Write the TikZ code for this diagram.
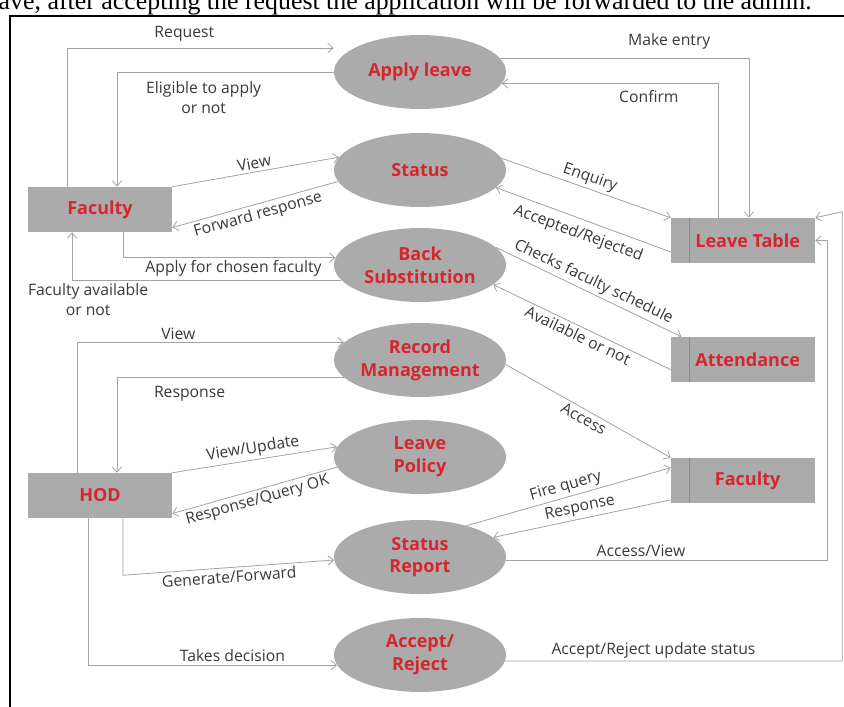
\documentclass[tikz,border=0pt]{standalone}
\usepackage{fontspec}
\setmainfont{Open Sans}
\newfontfamily\paperfont{Liberation Serif}
\usepackage{tikz}
\usetikzlibrary{arrows.meta, positioning, calc, shapes.geometric}
\definecolor{BubbleGray}{HTML}{ABABAB}
\definecolor{LineGray}{HTML}{A3A3A3}
\definecolor{StoreLine}{HTML}{8A8A8A}
\definecolor{NameRed}{HTML}{D5262E}
\definecolor{LabelInk}{HTML}{3A3A3A}

\begin{document}
\begin{tikzpicture}[
    x=0.75pt, y=-0.75pt, >={Straight Barb[length=4pt,width=7pt]},
    proc/.style={ellipse, fill=BubbleGray, minimum width=129pt, minimum height=55.5pt,
      inner sep=0pt, align=center, text=NameRed, font=\fontsize{13.5}{17}\selectfont\bfseries},
    ent/.style={rectangle, fill=BubbleGray, minimum width=108pt, minimum height=33.75pt,
      inner sep=0pt, text=NameRed, font=\fontsize{13.5}{17}\selectfont\bfseries},
    store/.style={ent, execute at begin node=\hspace*{7pt}},
    flow/.style={->, draw=LineGray, line width=0.6pt},
    lbl/.style={text=LabelInk, inner sep=2pt, align=center, font=\fontsize{11.8}{15}\selectfont},
  ]
  % page area (pixel grid of the scan)
  \useasboundingbox (0,0) rectangle (844,707);
  \fill[white] (0,0) rectangle (844,707);
  \clip (0,0) rectangle (844,707);
  % cut-off line of the paper above the figure
  \node[anchor=base east, inner sep=0pt, font=\paperfont\fontsize{19.4}{22}\selectfont] (caption)
    at (812,9) {leave, after accepting the request the application will be forwarded to the admin.};
  \draw[line width=1.5pt] (10,730) |- (870,16);

  % processes
  \def\cx{420}
  \node[proc] (apply) at (\cx,72) {Apply leave};
  \node[proc] (status) at (\cx,170) {Status};
  \node[proc] (backsub) at (\cx,265) {Back\\Substitution};
  \node[proc] (recmgmt) at (\cx,360) {Record\\Management};
  \node[proc] (policy) at (\cx,457) {Leave\\Policy};
  \node[proc] (report) at (\cx,557) {Status\\Report};
  \node[proc] (accept) at (\cx,655) {Accept/\\Reject};

  % external entities and data stores
  \node[ent] (fac) at (100,209.5) {Faculty};
  \node[ent] (hod) at (100,495.5) {HOD};
  \node[store] (ltable) at (743,240.5) {Leave Table};
  \node[store] (attend) at (743,359.5) {Attendance};
  \node[store] (facr) at (743,480.5) {Faculty};
  \foreach \s in {ltable, attend, facr}
    \draw[StoreLine, line width=0.6pt] ([xshift=14pt]\s.north west) -- ([xshift=14pt]\s.south west);

  % faculty side
  \draw[flow] ($(fac.north)+(-33,0)$) |- node[lbl, pos=0.72, above=3pt] {Request} ($(apply.west)+(0,-24)$);
  \draw[flow] (apply.west) -| node[lbl, pos=0.3, below=5pt] {Eligible to apply\\or not} ($(fac.north)+(17,0)$);
  \draw[flow] (fac.north east) -- node[lbl, sloped, above] {View} (status.171);
  \draw[flow] (status.188) -- node[lbl, sloped, below] {Forward response} (fac.-14);
  \draw[flow] ($(fac.south)+(23,0)$) |- node[lbl, pos=0.76, below=0pt] {Apply for chosen faculty} (backsub.175);
  \draw[flow] (backsub.191) -| node[lbl, pos=0.47, below] {Faculty available\\or not} ($(fac.south)+(-28,0)$);

  % leave table and attendance
  \draw[flow] (apply.10) -| node[lbl, pos=0.34, above=4pt] {Make entry} ($(ltable.north)+(6,0)$);
  \draw[flow] ($(ltable.north)+(-25,0)$) |- node[lbl, pos=0.66, below=3pt] {Confirm} (apply.-8);
  \draw[flow] (status.8) -- node[lbl, sloped, above] {Enquiry} (ltable.north west);
  \draw[flow] (ltable.189) -- node[lbl, sloped, below=3pt] {Accepted/Rejected} (status.-13);
  \draw[flow] (backsub.13) -- node[lbl, sloped, above] {Checks faculty schedule} ([xshift=8pt]attend.north west);
  \draw[flow] (attend.188) -- node[lbl, sloped, below] {Available or not} (backsub.-15);

  % HOD side
  \draw[flow] ($(hod.north)+(-23,0)$) |- node[lbl, pos=0.69, above] {View} (recmgmt.167);
  \draw[flow] (recmgmt.193) -| node[lbl, pos=0.34, below=4pt] {Response} ($(hod.north)+(17,0)$);
  \draw[flow] (hod.north east) -- node[lbl, sloped, above] {View/Update} (policy.173);
  \draw[flow] (policy.187) -- node[lbl, sloped, below] {Response/Query OK} (hod.-14);
  \draw[flow] ($(hod.south)+(23,0)$) -- ++(0,57) -- node[lbl, sloped, below] {Generate/Forward} (report.182);
  \draw[flow] ($(hod.south)+(-12,0)$) |- node[lbl, pos=0.79, above] {Takes decision} (accept.187);

  % faculty store and status back to leave table
  \draw[flow] (recmgmt.-3) -- node[lbl, sloped, below] {Access} (facr.north west);
  \draw[flow] (report.34) -- node[lbl, sloped, above] {Fire query} (facr.170);
  \draw[flow] (facr.195) -- node[lbl, sloped, above] {Response} (report.15);
  \draw[flow] (report.-2) -| node[lbl, pos=0.21, above] {Access/View} ($(ltable.east)+(12,0)$) -- (ltable.east);
  \draw[flow] (accept.-4) -| node[lbl, pos=0.22, above] {Accept/Reject update status} ($(ltable.north east)+(27,-6)$) -- (ltable.north east);
\end{tikzpicture}
\end{document}
